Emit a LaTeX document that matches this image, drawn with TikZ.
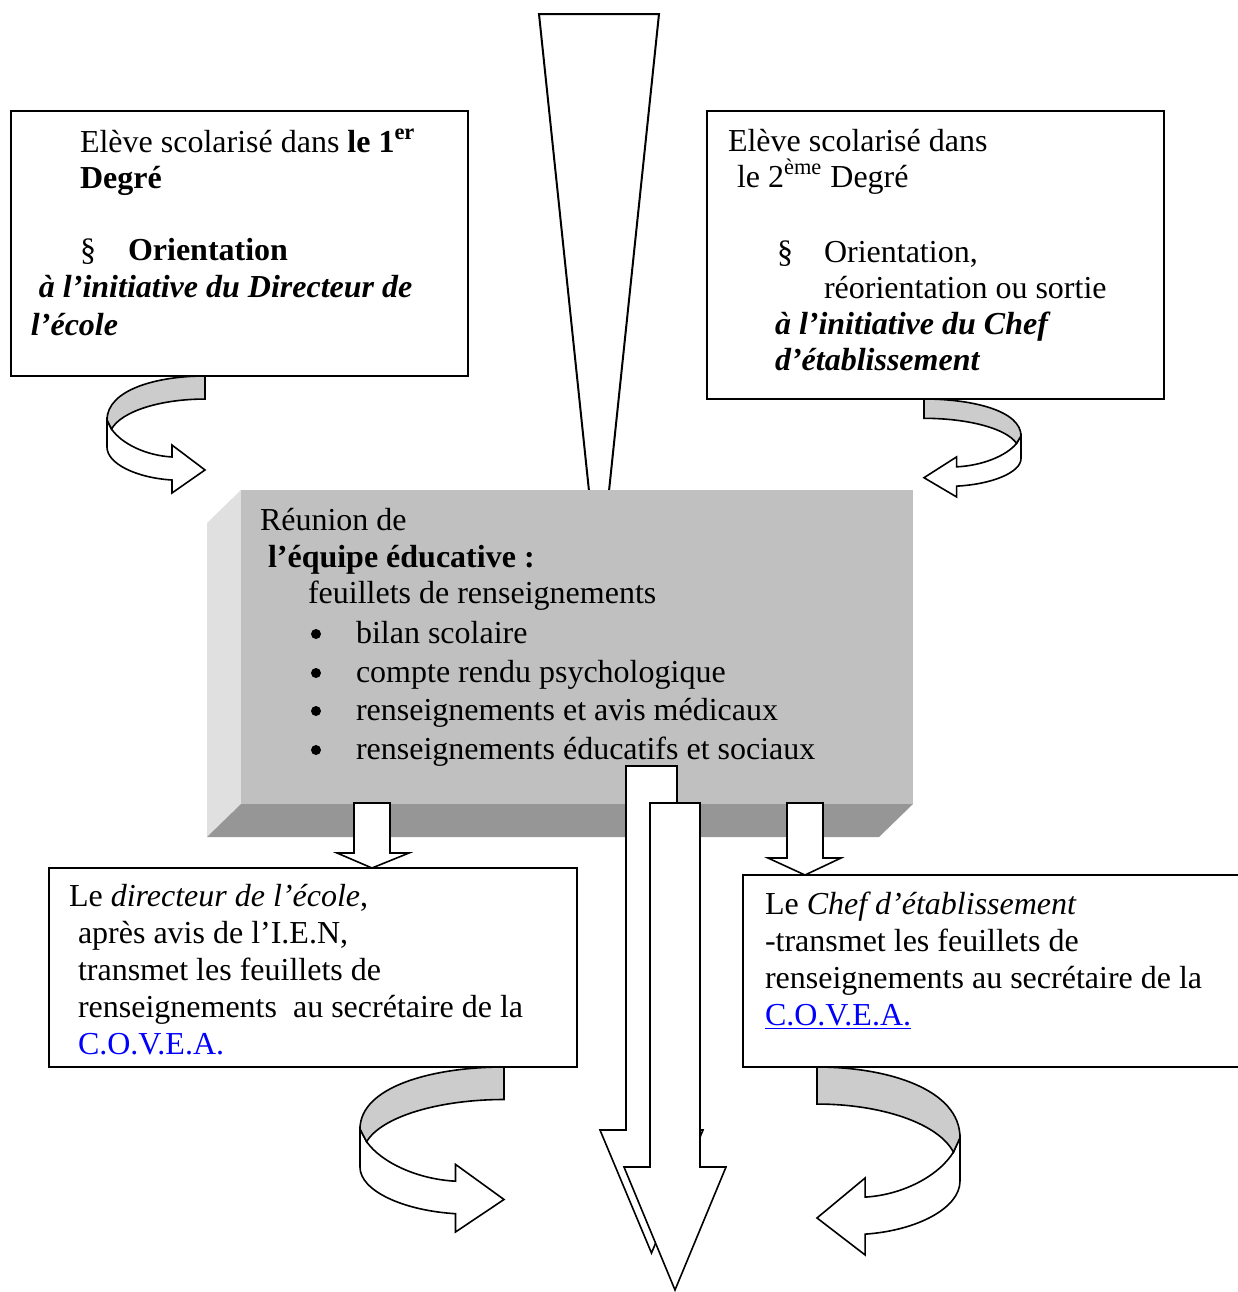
\documentclass[tikz,border=0pt]{standalone}
\usepackage{fontspec}
\setmainfont{Liberation Serif}
\usetikzlibrary{fit}
\definecolor{frontG}{RGB}{192,192,192}
\definecolor{sideL}{RGB}{224,224,224}
\definecolor{sideB}{RGB}{150,150,150}
\definecolor{ribbonG}{RGB}{204,204,204}
\definecolor{linkblue}{RGB}{0,0,255}
\newcommand{\curlarrow}[4]{%
  \begin{scope}[shift={(#1,#2)}, xscale=#3, yscale=#4]
    \path[arrowline] (-1,0.376) -- (-1,0.607)
      .. controls (-1,0.75) and (-0.7,0.87) .. (-0.337,0.889)
      -- (-0.337,1) -- (0,0.803) -- (-0.337,0.59) -- (-0.337,0.692)
      .. controls (-0.6,0.68) and (-0.85,0.58) .. (-0.954,0.453) -- cycle;
    \path[arrowline, fill=ribbonG] (0,0)
      .. controls (-0.5,0) and (-1,0.12) .. (-1,0.376)
      -- (-0.954,0.453)
      .. controls (-0.85,0.3) and (-0.45,0.197) .. (0,0.197) -- cycle;
  \end{scope}}
% shaft left, shaft right, top, head base, head left, head right, tip y
\newcommand{\blockdown}[7]{%
  \path[arrowline] (#1,#3) -- (#2,#3) -- (#2,#4) -- (#6,#4)
    -- ({(#1+#2)/2},#7) -- (#5,#4) -- (#1,#4) -- cycle;}
\begin{document}
\begin{tikzpicture}[x=0.5pt,y=-0.5pt,
  font=\fontsize{16}{18.5}\selectfont,
  boxline/.style={draw=black,line width=1pt,fill=white,inner sep=0pt,outer sep=0pt},
  arrowline/.style={draw=black,line width=0.8pt,fill=white,line join=miter},
  txt/.style={anchor=base west,inner sep=0pt,outer sep=0pt},
  bulletdot/.style={circle,fill=black,inner sep=0pt,minimum size=5pt},
  ]
\useasboundingbox (0,0) rectangle (1238,1292);
\clip (0,0) rectangle (1238,1292);

% cone from the top
\path[arrowline, line width=1pt] (589,491) -- (539,14) -- (659,14) -- (609,491);

% bevelled central box
\coordinate (fTL) at (241,490);
\coordinate (fBR) at (913,804);
\fill[sideL] (207,523) -- (fTL) -- (241,804) -- (207,837) -- cycle;
\fill[sideB] (207,837) -- (241,804) -- (fBR) -- (879,837) -- cycle;
\node[fill=frontG, inner sep=0pt, outer sep=0pt, fit=(fTL)(fBR)] (meeting) {};

\node[txt] (m1) at (260,530) {Réunion de};
\node[txt] (m2) at (268,567) {\textbf{l’équipe éducative :}};
\node[txt] (m3) at (308,603) {feuillets de renseignements};
\foreach \yy/\tt [count=\i] in {643/bilan scolaire,682/compte rendu psychologique,720/renseignements et avis médicaux,759/renseignements éducatifs et sociaux}{
  \node[bulletdot] (b\i) at (316,\yy-9) {};
  \node[txt] (i\i) at (356,\yy) {\tt};
}

% small block arrows out of the central box
\blockdown{354}{390}{803}{853}{337}{409}{868}
\blockdown{787}{823}{803}{858}{768}{841}{875}

% top-left box
\coordinate (a1) at (11,111); \coordinate (a2) at (468,376);
\node[boxline, fit=(a1)(a2)] (boxA) {};
\node[txt] (a_l1) at (80,152) {Elève scolarisé dans \textbf{le 1\textsuperscript{er}}};
\node[txt] (a_l2) at (80,188) {\textbf{Degré}};
\node[txt] (a_l3) at (80,260) {§};
\node[txt] (a_l3b) at (128,260) {\textbf{Orientation}};
\node[txt] (a_l4) at (39,297) {\textbf{\textit{à l’initiative du Directeur de}}};
\node[txt] (a_l5) at (31,335) {\textbf{\textit{l’école}}};

% top-right box
\coordinate (c1) at (707,111); \coordinate (c2) at (1164,399);
\node[boxline, fit=(c1)(c2)] (boxB) {};
\node[txt] (b_l1) at (728,151) {Elève scolarisé dans};
\node[txt] (b_l2) at (737,187) {le 2\textsuperscript{ème} Degré};
\node[txt] (b_l3) at (777,262) {§};
\node[txt] (b_l3b) at (824,262) {Orientation,};
\node[txt] (b_l4) at (824,298) {réorientation ou sortie};
\node[txt] (b_l5) at (775,334) {\textbf{\textit{à l’initiative du Chef}}};
\node[txt] (b_l6) at (775,370) {\textbf{\textit{d’établissement}}};

% bottom-left box
\coordinate (d1) at (49,868); \coordinate (d2) at (577,1067);
\node[boxline, fit=(d1)(d2)] (boxC) {};
\node[txt] (c_l1) at (69,906) {Le \textit{directeur de l’école},};
\node[txt] (c_l2) at (78,943) {après avis de l’I.E.N,};
\node[txt] (c_l3) at (78,980) {transmet les feuillets de};
\node[txt] (c_l4) at (78,1017) {renseignements\ \ au secrétaire de la};
\node[txt] (c_l5) at (78,1054) {\textcolor{linkblue}{C.O.V.E.A.}};

% bottom-right box (runs past the right edge)
\coordinate (e1) at (743,875); \coordinate (e2) at (1260,1067);
\node[boxline, fit=(e1)(e2)] (boxD) {};
\node[txt] (d_l1) at (765,914) {Le \textit{Chef d’établissement}};
\node[txt] (d_l2) at (765,951) {-transmet les feuillets de};
\node[txt] (d_l3) at (765,988) {renseignements au secrétaire de la};
\node[txt] (d_l4) at (765,1025) {\textcolor{linkblue}{\underline{C.O.V.E.A.}}};

% big double block arrow
\blockdown{626}{677}{766}{1130}{600}{703}{1253}
\blockdown{650}{700}{803}{1167}{624}{726}{1290}

% curved ribbon arrows
\curlarrow{205}{376}{98}{117}
\curlarrow{924}{399}{-97}{98}
\curlarrow{504}{1067}{144}{165}
\curlarrow{817}{1067}{-143}{188}
\end{tikzpicture}
\end{document}
